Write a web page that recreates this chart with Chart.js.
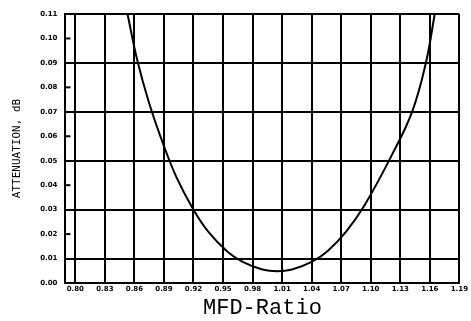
<!DOCTYPE html>
<html>
<head>
<meta charset="utf-8">
<script src="https://cdn.jsdelivr.net/npm/chart.js@4"></script>
<style>
  html, body { margin: 0; padding: 0; background: #fff; }
  #wrap { width: 471px; height: 321px; }
</style>
</head>
<body>
<div id="wrap"><canvas id="attn-chart"></canvas></div>
<script>
// curve (MFD ratio vs attenuation in dB)
var mfdRatio = [0.853, 0.863, 0.875, 0.890, 0.903, 0.920, 0.935, 0.954, 0.970, 0.990,
                1.005, 1.020, 1.040, 1.056, 1.075, 1.094, 1.121, 1.142, 1.156, 1.165];
var attenuation = [0.110, 0.091, 0.0735, 0.056, 0.043, 0.030, 0.021, 0.013, 0.0086, 0.0055,
                   0.0048, 0.0055, 0.0086, 0.013, 0.021, 0.032, 0.052, 0.070, 0.090, 0.110];
var xTicks = [0.80, 0.83, 0.86, 0.89, 0.92, 0.95, 0.98, 1.01, 1.04, 1.07, 1.10, 1.13, 1.16, 1.19];
var yTicks = [0.00, 0.01, 0.02, 0.03, 0.04, 0.05, 0.06, 0.07, 0.08, 0.09, 0.10, 0.11];

var points = mfdRatio.map(function (x, i) { return { x: x, y: attenuation[i] }; });

// short tick marks inside the frame at the even y values
var innerTicks = {
  id: 'innerTicks',
  afterDatasetsDraw: function (chart) {
    var ctx = chart.ctx, y = chart.scales.y, left = chart.chartArea.left;
    ctx.save();
    ctx.strokeStyle = '#000';
    ctx.lineWidth = 2;
    yTicks.forEach(function (v, i) {
      if (i % 2 === 0 && i > 0) {
        var py = y.getPixelForValue(v);
        ctx.beginPath();
        ctx.moveTo(left, py);
        ctx.lineTo(left + 5, py);
        ctx.stroke();
      }
    });
    ctx.restore();
  }
};

new Chart(document.getElementById("attn-chart"), {
  type: 'line',
  data: {
    datasets: [{
      data: points,
      borderColor: '#000',
      borderWidth: 2,
      pointRadius: 0,
      fill: false,
      tension: 0.4
    }]
  },
  plugins: [innerTicks],
  options: {
    maintainAspectRatio: false,
    responsive: true,
    animation: false,
    layout: { padding: { left: 11, right: 8, top: 14, bottom: 2 } },
    plugins: { legend: { display: false }, tooltip: { enabled: false } },
    scales: {
      x: {
        type: 'linear',
        min: 0.79,
        max: 1.19,
        afterBuildTicks: function (scale) {
          scale.ticks = xTicks.map(function (v) { return { value: v }; });
        },
        grid: { color: '#000', lineWidth: 2, drawTicks: false },
        border: { color: '#000', width: 2 },
        ticks: {
          color: '#000',
          padding: 3,
          maxRotation: 0,
          autoSkip: false,
          font: { family: 'DejaVu Sans', size: 7, weight: 'bold', lineHeight: 1 },
          callback: function (v) { return v.toFixed(2); }
        },
        title: {
          display: true,
          text: 'MFD-Ratio',
          color: '#000',
          padding: { top: 1, bottom: 0 },
          font: { family: 'Liberation Mono', size: 22, lineHeight: 1 }
        }
      },
      y: {
        min: 0,
        max: 0.11,
        afterBuildTicks: function (scale) {
          scale.ticks = yTicks.map(function (v) { return { value: v }; });
        },
        grid: {
          drawTicks: false,
          lineWidth: 2,
          color: function (c) {
            var i = Math.round(c.tick.value * 100);
            return i % 2 === 1 ? '#000' : 'rgba(0,0,0,0)';
          }
        },
        border: { color: '#000', width: 2 },
        ticks: {
          color: '#000',
          padding: 8,
          autoSkip: false,
          font: { family: 'DejaVu Sans', size: 7, weight: 'bold' },
          callback: function (v) { return v.toFixed(2); }
        },
        title: {
          display: true,
          text: 'ATTENUATION, dB',
          color: '#000',
          padding: { top: 0, bottom: 8 },
          font: { family: 'DejaVu Sans Mono', size: 11 }
        }
      }
    }
  }
});
</script>
</body>
</html>
